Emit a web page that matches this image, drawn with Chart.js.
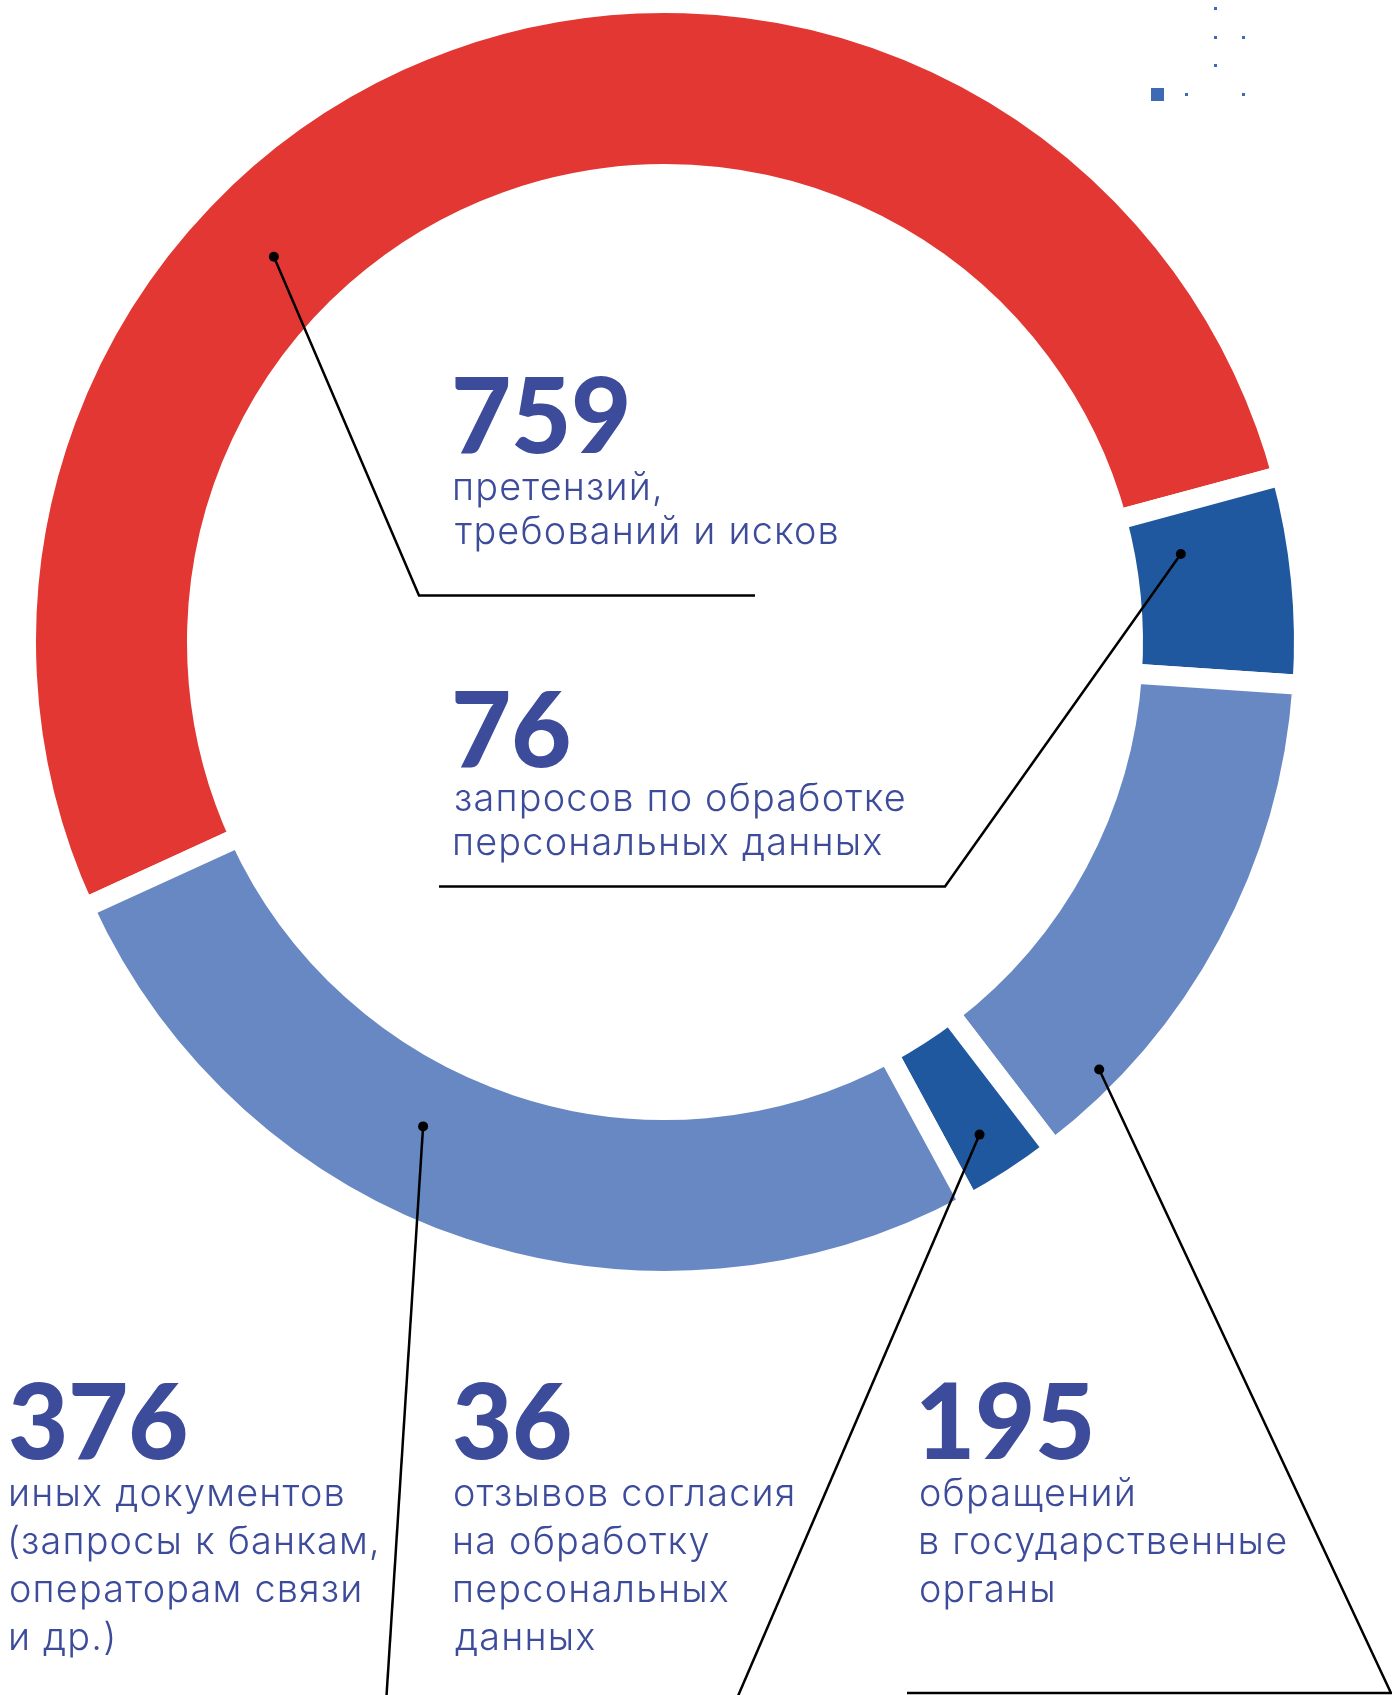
<!DOCTYPE html>
<html><head><meta charset="utf-8">
<script src="https://cdn.jsdelivr.net/npm/chart.js@4.4.1/dist/chart.umd.min.js"></script>
<style>
html,body{margin:0;padding:0;background:#fff;}
#wrap{position:relative;width:1392px;height:1695px;overflow:hidden;background:#fff;}
#c{position:absolute;left:0;top:0;}
.t{position:absolute;white-space:nowrap;color:#3d4b9b;margin:0;}
.deco{position:absolute;background:#3d6ab5;}
</style></head><body>
<div id="wrap"><canvas id="c" width="1392" height="1695"></canvas></div>
<script>
// ---- data ----
const categories = [
  'претензий, требований и исков',
  'запросов по обработке персональных данных',
  'обращений в государственные органы',
  'отзывов согласия на обработку персональных данных',
  'иных документов (запросы к банкам, операторам связи и др.)'
];
const values = [759, 76, 195, 36, 376];
const labelLines = [
  ['претензий,', 'требований и исков'],
  ['запросов по обработке', 'персональных данных'],
  ['обращений', 'в государственные', 'органы'],
  ['отзывов согласия', 'на обработку', 'персональных', 'данных'],
  ['иных документов', '(запросы к банкам,', 'операторам связи', 'и др.)']
];
const colors = ['#e33733', '#2058a0', '#6888c4', '#2058a0', '#6888c4'];

// ---- layout / style ----
const TEXT_COLOR = '#3d4b9b';
const GAP = 20;
// label blocks: x = left ink edge, nb = number baseline, lb = first line baseline, step = line step
const blocks = [
  {x: 455, nb: 453, lb: 500, step: 44},
  {x: 455, nb: 767, lb: 811, step: 44},
  {x: 921, nb: 1459, lb: 1506, step: 48},
  {x: 455, nb: 1459, lb: 1506, step: 48},
  {x: 11,  nb: 1459, lb: 1506, step: 48}
];
// leader lines: t = fraction along arc, r = fraction across ring, path = elbow points
const leaders = [
  {t: 0.365, r: 0.47, path: [[419, 595.5], [755, 595.5]]},
  {t: 0.286, r: 0.30, path: [[945, 886.5], [439, 886.5]]},
  {t: 0.836, r: 0.87, path: [[1391, 1693], [907, 1693]]},
  {t: 0.545, r: 0.705, path: [[738, 1696]]},
  {t: 0.586, r: 0.42, path: [[386.5, 1696]]}
];

const leaderPlugin = {
  id: 'leaders',
  afterDatasetsDraw(chart) {
    const ctx = chart.ctx;
    const meta = chart.getDatasetMeta(0);
    ctx.save();
    ctx.strokeStyle = '#000';
    ctx.fillStyle = '#000';
    ctx.lineWidth = 2.5;
    ctx.lineJoin = 'miter';
    leaders.forEach((ld, i) => {
      const arc = meta.data[i];
      const p = arc.getProps(['x', 'y', 'startAngle', 'endAngle', 'innerRadius', 'outerRadius'], true);
      const a = p.startAngle + ld.t * (p.endAngle - p.startAngle);
      const rIn = p.innerRadius + GAP / 2, rOut = p.outerRadius - GAP / 2;
      const r = rIn + ld.r * (rOut - rIn);
      const px = p.x + r * Math.cos(a), py = p.y + r * Math.sin(a);
      ctx.beginPath();
      ctx.moveTo(px, py);
      ld.path.forEach(q => ctx.lineTo(q[0], q[1]));
      ctx.stroke();
      ctx.beginPath();
      ctx.arc(px, py, 5, 0, Math.PI * 2);
      ctx.fill();
    });
    ctx.restore();
  }
};

new Chart(document.getElementById('c'), {
  type: 'doughnut',
  data: {
    labels: categories,
    datasets: [{
      data: values,
      backgroundColor: colors,
      borderColor: '#ffffff',
      borderWidth: GAP,
      borderAlign: 'center',
      hoverOffset: 0
    }]
  },
  options: {
    responsive: false,
    devicePixelRatio: 1,
    animation: false,
    events: [],
    radius: 639,
    cutout: '73.24%',
    rotation: 245.4,
    layout: {padding: {left: 0, right: 62, top: 0, bottom: 411}},
    plugins: {legend: {display: false}, tooltip: {enabled: false}}
  },
  plugins: [leaderPlugin]
});

// ---- text labels (real HTML text) ----
const wrap = document.getElementById('wrap');
const mctx = document.createElement('canvas').getContext('2d');
function meas(font, s) { mctx.font = font; return mctx.measureText(s); }
function inkW(m) { return m.actualBoundingBoxLeft + m.actualBoundingBoxRight; }

const NUM_FAM = 'Lato', NUM_W = 900;
const BODY_FAM = 'Inter', BODY_W = 300;
const capH = meas(`${NUM_W} 100px ${NUM_FAM}`, '7').actualBoundingBoxAscent;
const numSize = 100 * 75 / capH;
const numFont = `${NUM_W} ${numSize}px ${NUM_FAM}`;
const numLS = (172 - inkW(meas(numFont, '759'))) / 2;

// body: fixed small tracking, size chosen so the reference line width matches
const refLine = 'требований и исков';
const bodyLS = 1.2;
const w100 = inkW(meas(`${BODY_W} 100px ${BODY_FAM}`, refLine));
const bodySize = 100 * (382 - bodyLS * (refLine.length - 1)) / w100;
const bodyFont = `${BODY_W} ${bodySize}px ${BODY_FAM}`;

function place(text, font, fam, w, size, ls, x, baseline) {
  const m = meas(font, text);
  const A = m.fontBoundingBoxAscent, D = m.fontBoundingBoxDescent;
  const d = document.createElement('div');
  d.className = 't';
  d.textContent = text;
  d.style.fontFamily = fam;
  d.style.fontWeight = w;
  d.style.fontSize = size + 'px';
  d.style.letterSpacing = ls + 'px';
  d.style.lineHeight = (A + D) + 'px';
  d.style.left = (x + m.actualBoundingBoxLeft) + 'px';
  d.style.top = (baseline - A) + 'px';
  d.style.color = TEXT_COLOR;
  wrap.appendChild(d);
}
blocks.forEach((b, i) => {
  place(String(values[i]), numFont, NUM_FAM, NUM_W, numSize, numLS, b.x, b.nb);
  labelLines[i].forEach((ln, j) => {
    place(ln, bodyFont, BODY_FAM, BODY_W, bodySize, bodyLS, b.x, b.lb + j * b.step);
  });
});

// ---- decoration (top right) ----
const decoSquare = {x: 1151, y: 88, s: 13};
const decoDots = [[1215, 8], [1215, 37], [1243, 37], [1215, 65], [1186, 94], [1243, 94]];
(function () {
  const sq = document.createElement('div');
  sq.className = 'deco';
  Object.assign(sq.style, {left: decoSquare.x + 'px', top: decoSquare.y + 'px', width: decoSquare.s + 'px', height: decoSquare.s + 'px'});
  wrap.appendChild(sq);
  decoDots.forEach(p => {
    const d = document.createElement('div');
    d.className = 'deco';
    Object.assign(d.style, {left: (p[0] - 1.5) + 'px', top: (p[1] - 1.5) + 'px', width: '3px', height: '3px'});
    wrap.appendChild(d);
  });
})();
</script>
</body></html>
